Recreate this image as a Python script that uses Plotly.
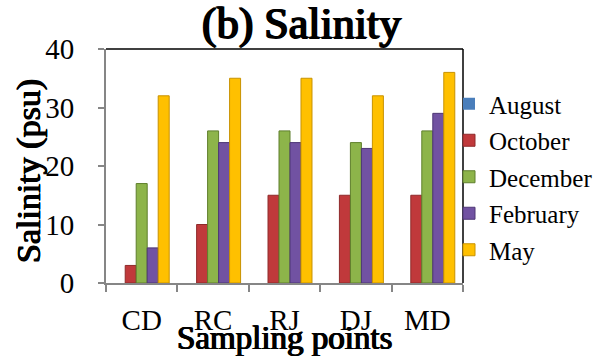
import plotly.graph_objects as go

categories = ["CD", "RC", "RJ", "DJ", "MD"]
august = [0, 0, 0, 0, 0]
october = [3, 10, 15, 15, 15]
december = [17, 26, 26, 24, 26]
february = [6, 24, 24, 23, 29]
may = [32, 35, 35, 32, 36]

series = [
    ("August", august, "#4A7EBB", "#2E5A8E"),
    ("October", october, "#C0393B", "#8E2A2A"),
    ("December", december, "#8DB44A", "#5F7F2C"),
    ("February", february, "#7152A2", "#4E3775"),
    ("May", may, "#FFC000", "#C89200"),
]

FONT = "Liberation Serif"
L, R, T, B = 106, 463, 49, 283
W, H = 604, 357

BOLD_S = "0.7px 0 0 black, -0.7px 0 0 black, 0 0.3px 0 black"
BOLD_L = "1px 0 0 black, -1px 0 0 black, 0 0.5px 0 black"

fig = go.Figure()
for i, (name, vals, col, edge) in enumerate(series):
    fig.add_trace(go.Bar(
        name=name, x=categories, y=vals,
        marker=dict(color=col, line=dict(color=edge, width=0 if name == "August" else 1)),
        legendgroup=name,
    ))

fig.update_layout(
    width=W, height=H,
    margin=dict(l=L, r=W - R, t=T, b=H - B, pad=0, autoexpand=False),
    paper_bgcolor="white", plot_bgcolor="white",
    barmode="group", bargap=0.23, bargroupgap=0,
    font=dict(family=FONT, color="black", size=29),
    showlegend=True,
    legend=dict(
        xref="container", yref="container",
        x=449 / W, y=1 - 81 / H, xanchor="left", yanchor="top",
        font=dict(family=FONT, size=25, color="black"),
        tracegroupgap=1, bgcolor="rgba(0,0,0,0)", itemwidth=30,
        maxheight=300,
    ),
    annotations=[
        dict(text="(b) Salinity", xref="paper", yref="paper",
             x=(301.5 - L) / (R - L), y=(B - 24) / (B - T), xanchor="center", yanchor="middle",
             showarrow=False, font=dict(family=FONT, size=44, color="black", shadow=BOLD_L)),
        dict(text="Salinity (psu)", xref="paper", yref="paper",
             x=(29 - L) / (R - L), y=(B - 171) / (B - T), xanchor="center", yanchor="middle",
             textangle=-90,
             showarrow=False, font=dict(family=FONT, size=34, color="black", shadow=BOLD_S)),
        dict(text="Sampling points", xref="paper", yref="paper",
             x=0.5, y=(B - 338) / (B - T), xanchor="center", yanchor="middle",
             showarrow=False, font=dict(family=FONT, size=33, color="black", shadow=BOLD_S)),
    ],
    shapes=[
        dict(type="line", xref="paper", yref="paper", x0=0, x1=1, y0=1, y1=1,
             line=dict(color="black", width=1.5)),
        dict(type="line", xref="paper", yref="paper", x0=1, x1=1, y0=0, y1=1,
             line=dict(color="black", width=1.5)),
    ],
)

fig.update_yaxes(
    range=[0, 40], dtick=10, showgrid=False, zeroline=False,
    showline=True, linecolor="#868686", linewidth=2,
    ticks="outside", ticklen=6, tickcolor="#868686", tickwidth=1.5,
    ticklabelstandoff=18,
    tickfont=dict(family=FONT, size=29, color="black"),
)
fig.update_xaxes(
    showgrid=False, zeroline=False,
    showline=True, linecolor="#868686", linewidth=2,
    ticks="outside", ticklen=7, tickcolor="#868686", tickwidth=1.5,
    tickson="boundaries", ticklabelstandoff=10,
    tickfont=dict(family=FONT, size=29, color="black"),
)

fig.write_html("out.html")
